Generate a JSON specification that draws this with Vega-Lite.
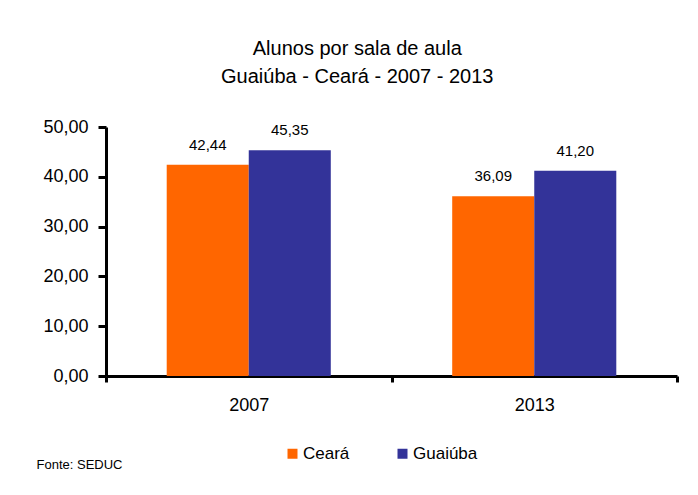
{
  "$schema": "https://vega.github.io/schema/vega-lite/v6.json",
  "width": 571,
  "height": 249,
  "autosize": "none",
  "padding": {"left": 106, "top": 127, "right": 21, "bottom": 119},
  "background": "white",
  "config": {
    "font": "Liberation Sans",
    "view": {"stroke": null},
    "locale": {"number": {"decimal": ",", "thousands": ".", "grouping": [3], "currency": ["R$", ""]}}
  },
  "title": {
    "text": ["Alunos por sala de aula", "Guaiúba - Ceará - 2007 - 2013"],
    "fontSize": 20,
    "fontWeight": "normal",
    "color": "black",
    "lineHeight": 28,
    "frame": "bounds",
    "anchor": "middle",
    "offset": 31
  },
  "data": {
    "values": [
      {"ano": "2007", "local": "Ceará", "valor": 42.44},
      {"ano": "2007", "local": "Guaiúba", "valor": 45.35},
      {"ano": "2013", "local": "Ceará", "valor": 36.09},
      {"ano": "2013", "local": "Guaiúba", "valor": 41.20}
    ]
  },
  "encoding": {
    "x": {
      "field": "ano",
      "type": "nominal",
      "scale": {"paddingInner": 0, "paddingOuter": 0},
      "axis": {
        "title": "Fonte: SEDUC",
        "titleFontSize": 13,
        "titleFontWeight": "normal",
        "titleColor": "black",
        "titleAlign": "left",
        "titleAnchor": "start",
        "titleBaseline": "middle",
        "titleX": -70,
        "titleY": 88,
        "labelAngle": 0,
        "labelFontSize": 18,
        "labelColor": "black",
        "labelPadding": 14,
        "domainColor": "black",
        "domainWidth": 3,
        "tickColor": "black",
        "tickWidth": 3,
        "tickSize": 6,
        "tickBand": "extent"
      }
    },
    "xOffset": {
      "field": "local",
      "type": "nominal",
      "scale": {"paddingInner": 0, "paddingOuter": 0.74}
    }
  },
  "layer": [
    {
      "mark": {"type": "bar"},
      "encoding": {
        "y": {
          "field": "valor",
          "type": "quantitative",
          "scale": {"domain": [0, 50], "nice": false},
          "axis": {
            "title": null,
            "values": [0, 10, 20, 30, 40, 50],
            "format": ".2f",
            "grid": false,
            "labelFontSize": 18,
            "labelColor": "black",
            "labelPadding": 10,
            "domainColor": "black",
            "domainWidth": 3,
            "tickColor": "black",
            "tickWidth": 3,
            "tickSize": 8
          }
        },
        "color": {
          "field": "local",
          "type": "nominal",
          "scale": {"domain": ["Ceará", "Guaiúba"], "range": ["#FF6600", "#333399"]},
          "legend": {
            "title": null,
            "orient": "none",
            "direction": "horizontal",
            "legendX": 178,
            "legendY": 318,
            "symbolType": "square",
            "symbolSize": 100,
            "symbolStrokeWidth": 0,
            "symbolOpacity": 1,
            "labelFontSize": 17,
            "labelColor": "black",
            "labelOffset": 2,
            "columnPadding": 44
          }
        }
      }
    },
    {
      "mark": {"type": "text", "baseline": "bottom", "dy": -12, "fontSize": 15, "color": "black"},
      "encoding": {
        "y": {"field": "valor", "type": "quantitative"},
        "text": {"field": "valor", "type": "quantitative", "format": ".2f"}
      }
    }
  ]
}
